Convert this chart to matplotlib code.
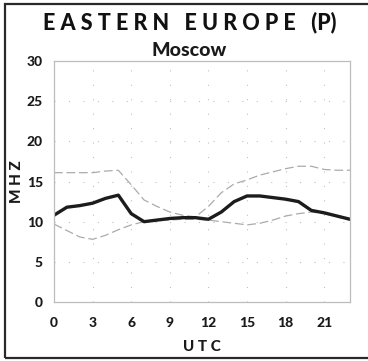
import matplotlib
matplotlib.use("Agg")
import matplotlib.pyplot as plt
from matplotlib.patches import Rectangle

# Hourly frequencies (MHz) for the Moscow path
hours = list(range(24))
muf_median = [10.8, 11.8, 12.0, 12.3, 12.9, 13.3, 11.0, 10.0, 10.2, 10.4, 10.5, 10.5,
              10.3, 11.2, 12.5, 13.2, 13.2, 13.0, 12.8, 12.5, 11.4, 11.1, 10.7, 10.3]
upper_decile = [16.1, 16.1, 16.1, 16.1, 16.3, 16.4, 14.6, 12.7, 11.9, 11.2, 10.8, 10.6,
                11.9, 13.6, 14.7, 15.2, 15.8, 16.2, 16.6, 16.9, 16.9, 16.5, 16.4, 16.4]
lower_decile = [9.7, 8.9, 8.1, 7.8, 8.3, 9.0, 9.6, 10.0, 10.1, 10.2, 10.3, 10.3,
                10.2, 10.0, 9.8, 9.6, 9.8, 10.2, 10.7, 11.0, 11.2, 11.0, 10.6, 10.2]

x_ticks = [0, 3, 6, 9, 12, 15, 18, 21]
y_ticks = [0, 5, 10, 15, 20, 25, 30]

FONT = "Lato"
plt.rcParams["font.family"] = [FONT, "DejaVu Sans"]

fig = plt.figure(figsize=(3.68, 3.61), dpi=100)
ax = fig.add_axes([0.1467, 0.1634, 0.951 - 0.1467, 0.831 - 0.1634])

# outer frame around the whole panel
fig.patches.append(Rectangle((5 / 368, 3 / 361), 1.2, 354 / 361, transform=fig.transFigure,
                             fill=False, edgecolor="#2a2a2a", linewidth=1.6))

ax.plot(hours, upper_decile, color="#ababab", lw=0.9, dashes=(7, 3))
ax.plot(hours, lower_decile, color="#ababab", lw=0.9, dashes=(7, 3))
ax.plot(hours, muf_median, color="#1c1c1c", lw=2.4, solid_joinstyle="round")

ax.set_xlim(0, 23)
ax.set_ylim(0, 30)
ax.set_xticks(x_ticks)
ax.set_yticks(y_ticks)
ax.tick_params(length=0, labelsize=10, pad=11)
ax.tick_params(axis="y", pad=8)
for lab in ax.get_xticklabels() + ax.get_yticklabels():
    lab.set_fontweight("black")
    lab.set_color("#1a1a1a")

ax.grid(True, color="#c0c0c0", lw=0.8, linestyle=(0, (1, 12)))
for s in ax.spines.values():
    s.set_color("#bdbdbd")
    s.set_linewidth(0.9)

ax.set_xlabel("U T C", fontsize=11, fontweight="black", labelpad=8, color="#1a1a1a")
ax.set_ylabel("M H Z", fontsize=11, fontweight="black", labelpad=2, color="#1a1a1a")

fig.text(0.515, 1 - 22 / 361, "E A S T E R N   E U R O P E   (P)", ha="center", va="center",
         fontsize=15.5, fontweight="black", color="#111111")
fig.text(189 / 368, 1 - 50 / 361, "Moscow", ha="center", va="center",
         fontsize=14, fontweight="black", color="#1a1a1a")

fig.savefig("out.png", dpi=100)
